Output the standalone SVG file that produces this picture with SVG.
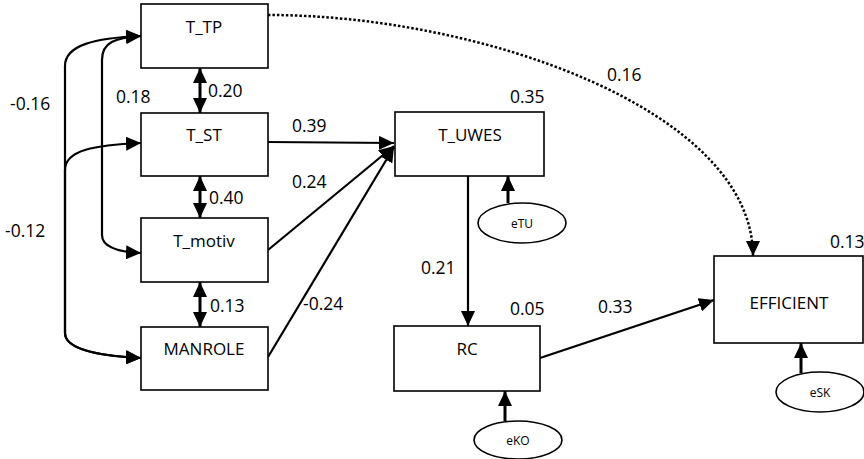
<svg xmlns="http://www.w3.org/2000/svg" width="864" height="459" viewBox="0 0 864 459">
<style>
.box{fill:#fff;stroke:#000;stroke-width:1.6}
.ell{fill:#fff;stroke:#000;stroke-width:1.6}
.lbl{font-family:"Open Sans","Liberation Sans",sans-serif;font-size:17px;fill:#000;text-anchor:middle}
.num{font-family:"Open Sans","Liberation Sans",sans-serif;font-size:17.5px;fill:#000}
.sm{font-family:"Open Sans","Liberation Sans",sans-serif;font-size:12px;fill:#000;text-anchor:middle}
.c{fill:none;stroke:#000;stroke-width:2.2}
.thick{fill:none;stroke:#000;stroke-width:3}
.dot{fill:none;stroke:#000;stroke-width:2.5;stroke-dasharray:2.5 2}
</style>
<defs>
<marker id="ah" markerUnits="userSpaceOnUse" markerWidth="16" markerHeight="14" refX="15" refY="7" orient="auto-start-reverse" viewBox="0 0 16 14">
<path d="M0,0 L15,7 L0,14 Z" fill="#000"/>
</marker>
</defs>
<g id="connectors">
<path class="c" d="M141,36 C95,38 65,45 65,66 L65,333 C65,350 100,356 141,358" marker-start="url(#ah)" marker-end="url(#ah)"/>
<path class="c" d="M141,143 C95,145 65,150 65,170 L65,333 C65,350 100,356 141,358" marker-start="url(#ah)" marker-end="url(#ah)"/>
<path class="c" d="M141,36 C115,38 102,42 102,60 L102,235 C102,248 120,252 141,253" marker-start="url(#ah)" marker-end="url(#ah)"/>
<path class="thick" d="M200,68 L200,113" marker-start="url(#ah)" marker-end="url(#ah)"/>
<path class="thick" d="M200,176 L200,218" marker-start="url(#ah)" marker-end="url(#ah)"/>
<path class="thick" d="M200,282 L200,327" marker-start="url(#ah)" marker-end="url(#ah)"/>
<path class="c" d="M268,142 L394,143" marker-end="url(#ah)"/>
<path class="c" d="M268,250 L394,146" marker-end="url(#ah)"/>
<path class="c" d="M268,357 L394,147" marker-end="url(#ah)"/>
<path class="c" d="M468,176 L468,326" marker-end="url(#ah)"/>
<path class="thick" d="M508,203 L508,176" marker-end="url(#ah)"/>
<path class="thick" d="M505,421 L505,391" marker-end="url(#ah)"/>
<path class="thick" d="M801,373 L801,343" marker-end="url(#ah)"/>
<path class="c" d="M540,358 L714,300" marker-end="url(#ah)"/>
<path class="dot" d="M268,15 C480,15 753,110 753,256" marker-end="url(#ah)"/>
</g>
<g id="T_TP"><rect class="box" x="141" y="4" width="127" height="64"/><text class="lbl" x="204" y="33">T_TP</text></g>
<g id="T_ST"><rect class="box" x="141" y="113" width="127" height="63"/><text class="lbl" x="204" y="141">T_ST</text></g>
<g id="T_motiv"><rect class="box" x="141" y="218" width="127" height="64"/><text class="lbl" x="204" y="247">T_motiv</text></g>
<g id="MANROLE"><rect class="box" x="141" y="327" width="127" height="63"/><text class="lbl" x="204" y="355">MANROLE</text></g>
<g id="T_UWES"><rect class="box" x="395" y="112" width="149" height="64"/><text class="lbl" x="470" y="141">T_UWES</text></g>
<g id="RC"><rect class="box" x="394" y="326" width="146" height="65"/><text class="lbl" x="467" y="355">RC</text></g>
<g id="EFFICIENT"><rect class="box" x="714" y="256" width="149" height="87"/><text class="lbl" x="789" y="309">EFFICIENT</text></g>
<g id="eTU"><ellipse class="ell" cx="522" cy="223" rx="44" ry="20"/><text class="sm" x="522" y="228">eTU</text></g>
<g id="eKO"><ellipse class="ell" cx="518" cy="440" rx="44" ry="19"/><text class="sm" x="518" y="445">eKO</text></g>
<g id="eSK"><ellipse class="ell" cx="820" cy="392" rx="44" ry="20"/><text class="sm" x="820" y="397">eSK</text></g>
<g id="labels">
<text class="num" x="208" y="97">0.20</text>
<text class="num" x="116" y="103">0.18</text>
<text class="num" x="10" y="110">-0.16</text>
<text class="num" x="209" y="204">0.40</text>
<text class="num" x="5" y="237">-0.12</text>
<text class="num" x="210" y="312">0.13</text>
<text class="num" x="292" y="132">0.39</text>
<text class="num" x="292" y="188">0.24</text>
<text class="num" x="303" y="310">-0.24</text>
<text class="num" x="510" y="103">0.35</text>
<text class="num" x="421" y="274">0.21</text>
<text class="num" x="510" y="315">0.05</text>
<text class="num" x="598" y="313">0.33</text>
<text class="num" x="607" y="81">0.16</text>
<text class="num" x="830" y="248">0.13</text>
</g>
</svg>
